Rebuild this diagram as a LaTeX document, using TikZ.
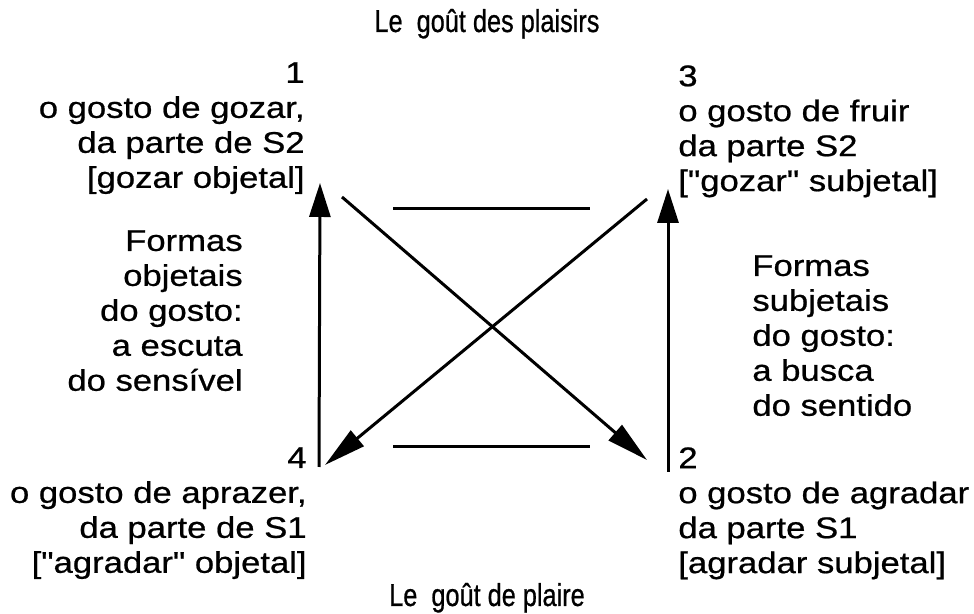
\documentclass[tikz,border=0pt]{standalone}
\usepackage{fontspec}
\setmainfont{Liberation Sans}[FakeStretch=1.16,FakeBold=0.7,Ligatures=TeXOff]
\newfontfamily\titlefont{Liberation Sans}[FakeStretch=0.8,FakeBold=0.7]
\usetikzlibrary{arrows.meta}

\begin{document}
\begin{tikzpicture}[x=0.02cm,y=-0.02cm]
	\useasboundingbox (0,0) rectangle (974,614);
	\begin{scope}[every node/.style={inner sep=0pt,font=\fontsize{17}{19.9}\selectfont}]
	\node[anchor=base,font=\titlefont\fontsize{18}{19.9}\selectfont] (plaisirs) at (487,32) {Le\ \ goût des plaisirs};
	\node[anchor=north east,align=right] (g1) at (305,62) {1\\o gosto de gozar,\\da parte de S2\\{[}gozar objetal{]}};
	\node[anchor=north west,align=left] (g3) at (678,65) {3\\o gosto de fruir\\da parte S2\\{[}"gozar" subjetal{]}};
	\node[anchor=north east,align=right] (obj) at (243,230) {Formas\\objetais\\do gosto:\\a escuta\\do sensível};
	\node[anchor=north west,align=left] (subj) at (752,255) {Formas\\subjetais\\do gosto:\\a busca\\do sentido};
	\node[anchor=north east,align=right] (g4) at (307,447) {4\\o gosto de aprazer,\\da parte de S1\\{[}"agradar" objetal{]}};
	\node[anchor=north west,align=left] (g2) at (678,447) {2\\o gosto de agradar\\da parte S1\\{[}agradar subjetal{]}};
	\node[anchor=base,font=\titlefont\fontsize{18}{19.9}\selectfont] (plaire) at (487,606) {Le\ \ goût de plaire};
	\end{scope}
	\coordinate (tl) at (320,183);
	\coordinate (bl) at (319,467);
	\coordinate (tr) at (668,189);
	\coordinate (br) at (668,472);
	\coordinate (d1s) at (342,197);
	\coordinate (d1e) at (647,460);
	\coordinate (d2s) at (647,199);
	\coordinate (d2e) at (325,465);
	\coordinate (h1a) at (393,209);
	\coordinate (h1b) at (590,209);
	\coordinate (h2a) at (393,447);
	\coordinate (h2b) at (590,447);
	\draw [line width=0.6mm,-{Triangle[length=6.8mm,width=4.2mm]}] (bl) -- (tl);
	\draw [line width=0.6mm,-{Triangle[length=6.8mm,width=4.2mm]}] (br) -- (tr);
	\draw [line width=0.6mm,-{Triangle[length=8.4mm,width=4mm]}] (d1s) -- (d1e);
	\draw [line width=0.6mm,-{Triangle[length=8.4mm,width=4mm]}] (d2s) -- (d2e);
	\draw [line width=0.6mm] (h1a) -- (h1b);
	\draw [line width=0.6mm] (h2a) -- (h2b);
\end{tikzpicture}
\end{document}
